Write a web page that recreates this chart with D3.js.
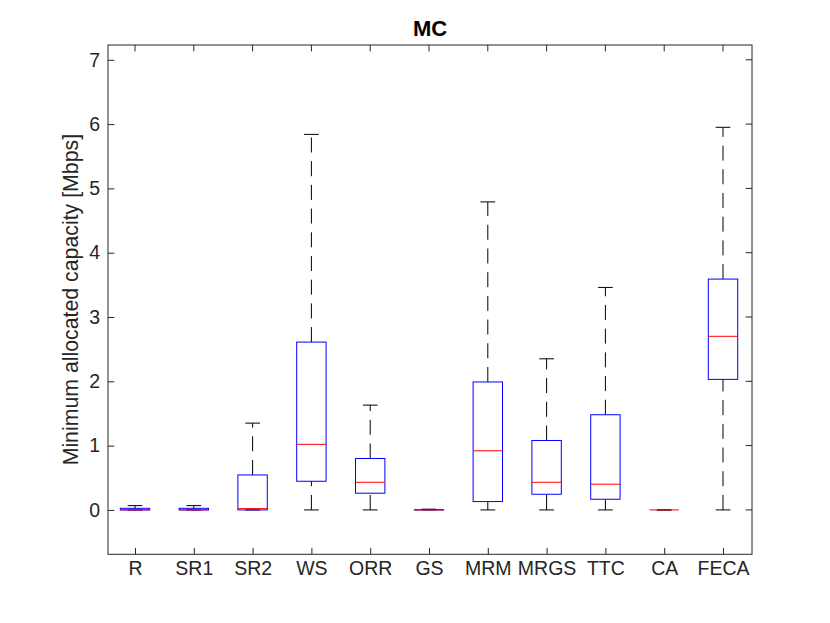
<!DOCTYPE html>
<html>
<head>
<meta charset="utf-8">
<script src="https://cdn.jsdelivr.net/npm/d3@7"></script>
<style>
  body { margin: 0; background: #fff; }
  svg { font-family: "Liberation Sans", Arial, sans-serif; }
</style>
</head>
<body>
<svg id="chart" width="830" height="623"></svg>
<script>
// box plot stats (Mbps)
const categories = ["R", "SR1", "SR2", "WS", "ORR", "GS", "MRM", "MRGS", "TTC", "CA", "FECA"];
const lowerWhisker = [0, 0, 0, 0, 0, 0, 0, 0, 0, 0, 0];
const q1Values = [0, 0, 0, 0.446, 0.26, 0, 0.13, 0.244, 0.166, 0, 2.03];
const medianValues = [0, 0, 0.02, 1.02, 0.43, 0, 0.92, 0.43, 0.40, 0, 2.70];
const q3Values = [0.025, 0.025, 0.544, 2.61, 0.80, 0.004, 1.99, 1.08, 1.48, 0, 3.59];
const upperWhisker = [0.067, 0.067, 1.35, 5.84, 1.63, 0.012, 4.79, 2.35, 3.46, 0, 5.95];
const yTicks = [0, 1, 2, 3, 4, 5, 6, 7];

const svg = d3.select("#chart");

// plot frame
const plotLeft = 108, plotRight = 752, plotTop = 45, plotBottom = 554.3;

const x = d3.scaleLinear().domain([1, 11]).range([135, 723]);
const y = d3.scaleLinear().domain([-0.69, 7.23]).range([plotBottom, plotTop]);

const axisColor = "#262626";
const tickLen = 6.4;
const boxHalf = x(1.25) - x(1);   // box width 0.5
const capHalf = x(1.125) - x(1);  // cap width 0.25

const boxes = categories.map((c, i) => ({
  name: c, pos: i + 1,
  lo: lowerWhisker[i], q1: q1Values[i], med: medianValues[i],
  q3: q3Values[i], hi: upperWhisker[i]
}));

// axes: left and bottom via d3 axes, top/right just ticks
const yAxis = d3.axisLeft(y).tickValues(yTicks).tickSizeInner(-tickLen).tickSizeOuter(0).tickPadding(8);
const gy = svg.append("g").attr("transform", `translate(${plotLeft},0)`).call(yAxis);
gy.select(".domain").remove();
gy.selectAll("line").attr("stroke", axisColor);
gy.selectAll("text").attr("font-size", 19.5).attr("fill", axisColor);

const xAxis = d3.axisBottom(x).tickValues(boxes.map(d => d.pos)).tickFormat((d, i) => categories[i])
  .tickSizeInner(-tickLen).tickSizeOuter(0).tickPadding(7);
const gx = svg.append("g").attr("transform", `translate(0,${plotBottom})`).call(xAxis);
gx.select(".domain").remove();
gx.selectAll("line").attr("stroke", axisColor);
gx.selectAll("text").attr("font-size", 19.5).attr("fill", axisColor);

// mirrored ticks on top and right
svg.append("g").selectAll("line").data(boxes).join("line")
  .attr("x1", d => x(d.pos)).attr("x2", d => x(d.pos))
  .attr("y1", plotTop).attr("y2", plotTop + tickLen)
  .attr("stroke", axisColor);
svg.append("g").selectAll("line").data(yTicks).join("line")
  .attr("x1", plotRight).attr("x2", plotRight - tickLen)
  .attr("y1", d => y(d)).attr("y2", d => y(d))
  .attr("stroke", axisColor);

// frame
svg.append("rect")
  .attr("x", plotLeft).attr("y", plotTop)
  .attr("width", plotRight - plotLeft).attr("height", plotBottom - plotTop)
  .attr("fill", "none").attr("stroke", axisColor).attr("stroke-width", 1);

const g = svg.append("g");

// whiskers, drawn from the lower value upward (like matlab)
g.selectAll(".wup").data(boxes).join("line")
  .attr("class", "wup")
  .attr("x1", d => x(d.pos)).attr("x2", d => x(d.pos))
  .attr("y1", d => y(d.q3)).attr("y2", d => y(d.hi))
  .attr("stroke", "#000").attr("stroke-dasharray", "15,8.7");
g.selectAll(".wlo").data(boxes).join("line")
  .attr("class", "wlo")
  .attr("x1", d => x(d.pos)).attr("x2", d => x(d.pos))
  .attr("y1", d => y(d.lo)).attr("y2", d => y(d.q1))
  .attr("stroke", "#000").attr("stroke-dasharray", "15,8.7");

// caps
g.selectAll(".capHi").data(boxes).join("line")
  .attr("class", "capHi")
  .attr("x1", d => x(d.pos) - capHalf).attr("x2", d => x(d.pos) + capHalf)
  .attr("y1", d => y(d.hi)).attr("y2", d => y(d.hi))
  .attr("stroke", "#000");
g.selectAll(".capLo").data(boxes).join("line")
  .attr("class", "capLo")
  .attr("x1", d => x(d.pos) - capHalf).attr("x2", d => x(d.pos) + capHalf)
  .attr("y1", d => y(d.lo)).attr("y2", d => y(d.lo))
  .attr("stroke", "#000");

// boxes
g.selectAll(".box").data(boxes).join("rect")
  .attr("class", "box")
  .attr("x", d => x(d.pos) - boxHalf)
  .attr("y", d => y(d.q3))
  .attr("width", boxHalf * 2)
  .attr("height", d => y(d.q1) - y(d.q3))
  .attr("fill", "none").attr("stroke", "#0000ff").attr("stroke-width", 1);

// medians
g.selectAll(".med").data(boxes).join("line")
  .attr("class", "med")
  .attr("x1", d => x(d.pos) - boxHalf).attr("x2", d => x(d.pos) + boxHalf)
  .attr("y1", d => y(d.med)).attr("y2", d => y(d.med))
  .attr("stroke", "#ff0000").attr("stroke-width", 1);

// title and y label
svg.append("text")
  .attr("x", (plotLeft + plotRight) / 2).attr("y", 36)
  .attr("text-anchor", "middle")
  .attr("font-size", 22).attr("font-weight", "bold").attr("fill", "#000")
  .text("MC");

svg.append("text")
  .attr("transform", `translate(78,${(plotTop + plotBottom) / 2}) rotate(-90)`)
  .attr("text-anchor", "middle")
  .attr("font-size", 21.3).attr("fill", axisColor)
  .text("Minimum allocated capacity [Mbps]");
</script>
</body>
</html>
